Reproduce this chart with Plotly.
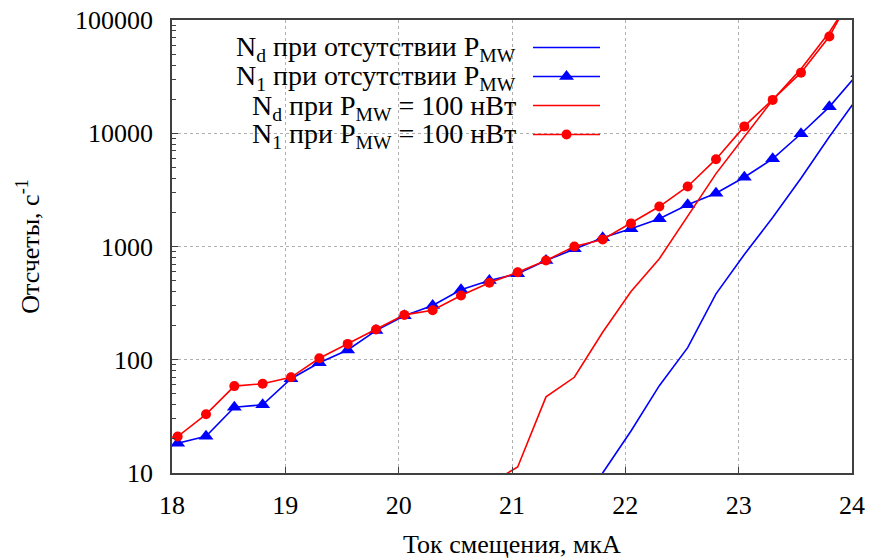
import plotly.graph_objects as go

# ---- data ----
x_n1 = [17.80, 18.05, 18.30, 18.55, 18.80, 19.05, 19.30, 19.55, 19.80, 20.05,
        20.30, 20.55, 20.80, 21.05, 21.30, 21.55, 21.80, 22.05, 22.30, 22.55,
        22.80, 23.05, 23.30, 23.55, 23.80, 24.05]
n1_off = [14.5, 18.3, 21.1, 38.1, 40, 68, 94, 122, 181, 245,
          301, 415, 500, 574, 752, 955, 1194, 1433, 1758, 2340,
          2958, 4090, 5940, 9900, 17100, 33500]
n1_on = [20, 21, 33, 58.5, 61.4, 70, 103, 138, 185, 249,
         274, 369, 478, 593, 752, 1000, 1153, 1600, 2254, 3388,
         5900, 11500, 19700, 34300, 71400, 205000]

x_nd_on = [20.80, 21.05, 21.30, 21.55, 21.80, 22.05, 22.30, 22.55, 22.80,
           23.05, 23.30, 23.55, 23.80, 24.05]
nd_on = [8, 11.3, 47, 70, 175, 400, 780, 1840, 4400, 9300, 19700, 37000, 78000, 190000]

x_nd_off = [21.55, 21.80, 22.05, 22.30, 22.55, 22.80, 23.05, 23.30, 23.55, 23.80, 24.05]
nd_off = [3, 10, 23.5, 59, 128, 382, 849, 1800, 4000, 9300, 20700]

legend_labels = [
    "N<sub>d</sub> при отсутствии P<sub>MW</sub>",
    "N<sub>1</sub> при отсутствии P<sub>MW</sub>",
    "N<sub>d</sub> при P<sub>MW</sub> = 100 нВт",
    "N<sub>1</sub> при P<sub>MW</sub> = 100 нВт",
]
x_ticks = [18, 19, 20, 21, 22, 23, 24]
y_ticks = [10, 100, 1000, 10000, 100000]
y_tick_text = ["10", "100", "1000", "10000", "100000"]
y_minor = [m * 10 ** e for e in range(1, 5) for m in range(2, 10)]

x_title = "Ток смещения, мкА"
y_title = "Отсчеты, с<sup>-1</sup>"

BLUE = "#0000ff"
RED = "#ff0000"
FONT = "Liberation Serif"
AX = "#404040"

fig = go.Figure()
fig.add_trace(go.Scatter(x=x_nd_off, y=nd_off, mode="lines", name=" ",
                         line=dict(color=BLUE, width=1.6)))
fig.add_trace(go.Scatter(x=x_n1, y=n1_off, mode="lines+markers", name=" ",
                         line=dict(color=BLUE, width=1.6),
                         marker=dict(symbol="triangle-up", size=13, color=BLUE)))
fig.add_trace(go.Scatter(x=x_nd_on, y=nd_on, mode="lines", name=" ",
                         line=dict(color=RED, width=1.6)))
fig.add_trace(go.Scatter(x=x_n1, y=n1_on, mode="lines+markers", name=" ",
                         line=dict(color=RED, width=1.6),
                         marker=dict(symbol="circle", size=10, color=RED)))

# legend text as annotations (text right-aligned, samples to the right)
row_y = [48.5, 77.8, 107.2, 135.8]
plot_top, plot_bot = 20.0, 472.7
plot_l, plot_r = 172.3, 851.7
for lbl, yy in zip(legend_labels, row_y):
    fig.add_annotation(
        x=(518 - plot_l) / (plot_r - plot_l), y=1 - (yy - plot_top) / (plot_bot - plot_top),
        xref="paper", yref="paper", xanchor="right", yanchor="middle",
        text=lbl, showarrow=False, font=dict(family=FONT, size=28, color="black"))

fig.update_layout(
    width=870, height=559,
    margin=dict(l=172, r=18, t=20, b=86, autoexpand=False),
    paper_bgcolor="white", plot_bgcolor="white",
    font=dict(family=FONT, size=26, color="black"),
    showlegend=True,
    legend=dict(x=(528 - plot_l) / (plot_r - plot_l),
                y=1 - (28 - plot_top) / (plot_bot - plot_top),
                xanchor="left", yanchor="top", bgcolor="rgba(0,0,0,0)",
                borderwidth=0, itemwidth=67, font=dict(family=FONT, size=20),
                tracegroupgap=0),
    xaxis=dict(range=[18, 24], tickvals=x_ticks, ticktext=[str(t) for t in x_ticks],
               showline=True, linecolor=AX, linewidth=1.5, mirror=True,
               ticks="inside", ticklen=6, tickcolor=AX, automargin=False,
               tickfont=dict(family=FONT, size=26, color="black"),
               showgrid=True, gridcolor="#b0b0b0", griddash="dot", gridwidth=1,
               zeroline=False, ticklabelstandoff=8,
               title=dict(text=x_title, standoff=17,
                          font=dict(family=FONT, size=26, color="black"))),
    yaxis=dict(type="log", range=[1, 5], tickvals=y_ticks, ticktext=y_tick_text,
               showline=True, linecolor=AX, linewidth=1.5, mirror=True,
               ticks="inside", ticklen=6, tickcolor=AX, automargin=False,
               tickfont=dict(family=FONT, size=26, color="black"),
               showgrid=True, gridcolor="#b0b0b0", griddash="dot", gridwidth=1,
               zeroline=False, ticklabelstandoff=12,
               minor=dict(tickmode="array", tickvals=y_minor, ticks="inside",
                          ticklen=4, tickcolor=AX, showgrid=False),
               title=dict(text=y_title, standoff=28,
                          font=dict(family=FONT, size=26, color="black"))),
)

fig.write_html("out.html", config={"displayModeBar": False},
               post_script="document.body.style.margin='0';document.body.style.padding='0';")
